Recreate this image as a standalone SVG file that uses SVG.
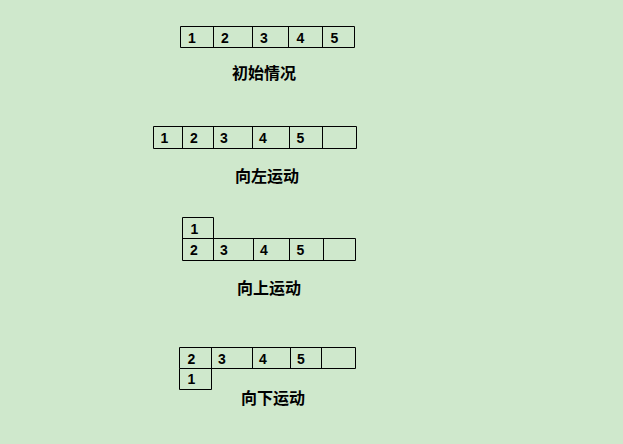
<svg xmlns="http://www.w3.org/2000/svg" width="623" height="444" viewBox="0 0 623 444">
<style>
.c{fill:none;stroke:#000;stroke-width:1}
.d{font-family:"Liberation Sans",Arial,sans-serif;font-weight:bold;font-size:14px;fill:#000}
.t{font-family:"Noto Sans CJK SC","Liberation Sans",sans-serif;font-weight:bold;font-size:16px;fill:#000;text-anchor:middle}
</style>
<rect width="623" height="444" fill="#CFE8CC"/>
<g id="initial">
<path class="c" d="M180.5 26.5H354.5V47.5H180.5Z M213.5 26.5V47.5 M252.5 26.5V47.5 M288.5 26.5V47.5 M322.5 26.5V47.5"/>
<text class="d" x="188" y="42.5">1</text>
<text class="d" x="221" y="42.5">2</text>
<text class="d" x="260" y="42.5">3</text>
<text class="d" x="296.5" y="42.5">4</text>
<text class="d" x="330.5" y="42.5">5</text>
<text class="t" x="264" y="79">初始情况</text>
</g>
<g id="left">
<path class="c" d="M153.5 126.5H356.5V148.5H153.5Z M182.5 126.5V148.5 M213.5 126.5V148.5 M252.5 126.5V148.5 M289.5 126.5V148.5 M322.5 126.5V148.5"/>
<text class="d" x="160.5" y="142.5">1</text>
<text class="d" x="190" y="142.5">2</text>
<text class="d" x="220" y="142.5">3</text>
<text class="d" x="259" y="142.5">4</text>
<text class="d" x="296.5" y="142.5">5</text>
<text class="t" x="267" y="182">向左运动</text>
</g>
<g id="up">
<path class="c" d="M182.5 217.5H213.5V238.5 M182.5 217.5V260.5H355.5V238.5H182.5 M213.5 238.5V260.5 M253.5 238.5V260.5 M289.5 238.5V260.5 M323.5 238.5V260.5"/>
<text class="d" x="190.5" y="233.5">1</text>
<text class="d" x="190" y="254.5">2</text>
<text class="d" x="220" y="254.5">3</text>
<text class="d" x="260" y="254.5">4</text>
<text class="d" x="296.5" y="254.5">5</text>
<text class="t" x="269" y="294">向上运动</text>
</g>
<g id="down">
<path class="c" d="M179.5 347.5H355.5V368.5H179.5Z M211.5 347.5V389.5H179.5V368.5 M252.5 347.5V368.5 M290.5 347.5V368.5 M321.5 347.5V368.5"/>
<text class="d" x="187.5" y="363.5">2</text>
<text class="d" x="218" y="363.5">3</text>
<text class="d" x="259" y="363.5">4</text>
<text class="d" x="297" y="363.5">5</text>
<text class="d" x="187.5" y="383.5">1</text>
<text class="t" x="273" y="404">向下运动</text>
</g>
<g id="connectors"></g>
</svg>
